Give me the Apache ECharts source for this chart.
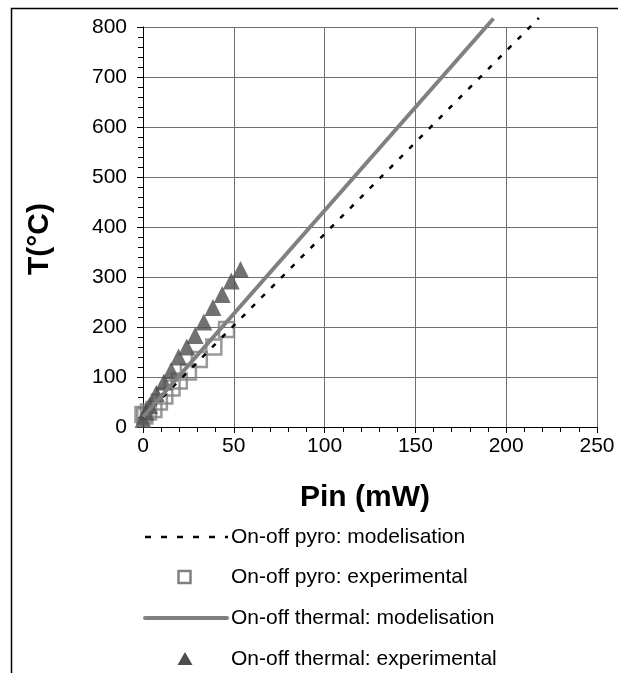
<!DOCTYPE html>
<html>
<head>
<meta charset="utf-8">
<script src="https://cdn.jsdelivr.net/npm/echarts@6/dist/echarts.min.js"></script>
<style>html,body{margin:0;padding:0;background:#fff}#c{width:618px;height:673px}</style>
</head>
<body>
<div id="c"></div>
<script>
// ---- data ----
var pyroModelX = [0, 218];
var pyroModelT = [20, 818];
var pyroExpX = [0, 1, 3, 6, 9, 12, 16, 20, 25, 31, 39, 46];
var pyroExpT = [25, 22, 30, 35, 50, 62, 78, 92, 110, 135, 160, 195];
var thermalModelX = [0, 193];
var thermalModelT = [20, 817];
var thermalExpX = [0, 1.5, 3.6, 7.3, 11.5, 15.5, 19.6, 24.1, 28.7, 33.5, 38.5, 43.6, 48.6, 53.7];
var thermalExpT = [15, 30, 43, 67, 90, 113, 140, 160, 183, 210, 239, 265, 292, 315];
var xTicks = [0, 50, 100, 150, 200, 250];
var yTicks = [0, 100, 200, 300, 400, 500, 600, 700, 800];
var legendNames = ['On-off pyro: modelisation', 'On-off pyro: experimental', 'On-off thermal: modelisation', 'On-off thermal: experimental'];

function pairs(xs, ys) { return xs.map(function (x, i) { return [x, ys[i]]; }); }

var FONT = '"Liberation Sans", Arial, sans-serif';
var chart = echarts.init(document.getElementById('c'), null, { renderer: 'canvas' });

var legendY = [537, 577, 618, 659];
var option = {
  animation: false,
  backgroundColor: '#fff',
  grid: { left: 143, right: 21, top: 27, bottom: 246, containLabel: false },
  xAxis: {
    type: 'value', min: xTicks[0], max: xTicks[xTicks.length - 1], interval: 50,
    name: 'Pin (mW)', nameLocation: 'middle', nameGap: 56,
    nameTextStyle: { fontFamily: FONT, fontSize: 30, fontWeight: 'bold', color: '#000', padding: [0, 10, 0, 0] },
    axisLine: { show: true, onZero: false, lineStyle: { color: '#000', width: 1 } },
    axisTick: { show: true, length: 6, lineStyle: { color: '#000' } },
    minorTick: { show: true, splitNumber: 5, length: 5, lineStyle: { color: '#000' } },
    axisLabel: { fontFamily: FONT, fontSize: 21, color: '#000', margin: 9 },
    splitLine: { show: true, lineStyle: { color: '#707070', width: 1 } }
  },
  yAxis: {
    type: 'value', min: yTicks[0], max: yTicks[yTicks.length - 1], interval: 100,
    name: 'T(°C)', nameLocation: 'middle', nameGap: 88, nameRotate: 90,
    nameTextStyle: { fontFamily: FONT, fontSize: 30, fontWeight: 'bold', color: '#000', padding: [0, 24, 0, 0] },
    axisLine: { show: true, onZero: false, lineStyle: { color: '#000', width: 1 } },
    axisTick: { show: true, length: 6, lineStyle: { color: '#000' } },
    minorTick: { show: true, splitNumber: 5, length: 5, lineStyle: { color: '#000' } },
    axisLabel: { fontFamily: FONT, fontSize: 21, color: '#000', margin: 16 },
    splitLine: { show: true, lineStyle: { color: '#707070', width: 1 } }
  },
  series: [
    {
      name: legendNames[0], type: 'line', data: pairs(pyroModelX, pyroModelT),
      showSymbol: false, symbol: 'none', clip: false,
      lineStyle: { color: '#000', width: 2.5, type: [5, 9] }
    },
    {
      name: legendNames[1], type: 'scatter', data: pairs(pyroExpX, pyroExpT),
      symbol: 'rect', symbolSize: 15, clip: false,
      itemStyle: { color: 'rgba(0,0,0,0)', borderColor: '#808080', borderWidth: 2.5 }
    },
    {
      name: legendNames[2], type: 'line', data: pairs(thermalModelX, thermalModelT),
      showSymbol: false, symbol: 'none', clip: false,
      lineStyle: { color: '#808080', width: 4 }
    },
    {
      name: legendNames[3], type: 'scatter', data: pairs(thermalExpX, thermalExpT),
      symbol: 'triangle', symbolSize: 17, clip: false,
      itemStyle: { color: '#4d4d4d' }
    }
  ],
  graphic: [
    { type: 'rect', silent: true, z: -1, shape: { x: 11.5, y: 8.5, width: 800, height: 900 },
      style: { fill: 'none', stroke: '#000', lineWidth: 1.5 } },
    { type: 'line', shape: { x1: 145, y1: legendY[0], x2: 228, y2: legendY[0] },
      style: { stroke: '#000', lineWidth: 2.5, lineDash: [6, 10] } },
    { type: 'text', x: 231, y: legendY[0], style: { text: legendNames[0], font: '21px ' + FONT, fill: '#000', verticalAlign: 'middle' } },
    { type: 'rect', shape: { x: 178.5, y: legendY[1] - 6, width: 12, height: 12 },
      style: { fill: 'none', stroke: '#808080', lineWidth: 2.5 } },
    { type: 'text', x: 231, y: legendY[1], style: { text: legendNames[1], font: '21px ' + FONT, fill: '#000', verticalAlign: 'middle' } },
    { type: 'line', shape: { x1: 145, y1: legendY[2], x2: 227, y2: legendY[2] },
      style: { stroke: '#808080', lineWidth: 4, lineCap: 'round' } },
    { type: 'text', x: 231, y: legendY[2], style: { text: legendNames[2], font: '21px ' + FONT, fill: '#000', verticalAlign: 'middle' } },
    { type: 'polygon', shape: { points: [[185, legendY[3] - 7], [192.5, legendY[3] + 6], [177.5, legendY[3] + 6]] },
      style: { fill: '#4d4d4d' } },
    { type: 'text', x: 231, y: legendY[3], style: { text: legendNames[3], font: '21px ' + FONT, fill: '#000', verticalAlign: 'middle' } }
  ]
};
chart.setOption(option);
</script>
</body>
</html>
